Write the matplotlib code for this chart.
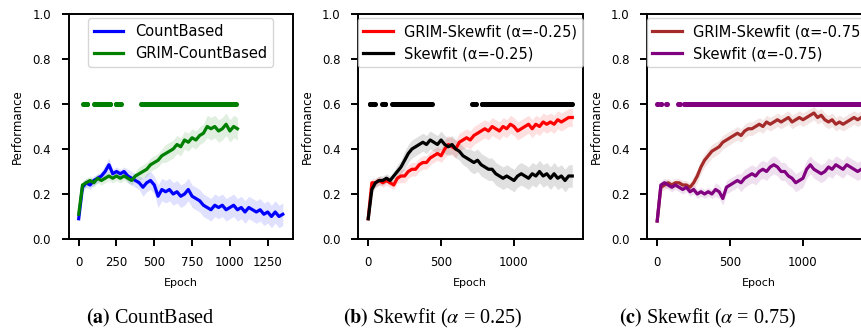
import matplotlib
matplotlib.use("Agg")
import matplotlib.pyplot as plt
import numpy as np

plt.rcParams['font.family'] = ['DejaVu Sans']
plt.rcParams['mathtext.fontset'] = 'stix'

# ---- panel (a) CountBased ----
count_epochs = list(range(0, 1351, 25))
count_mean = [0.09, 0.23, 0.25, 0.24, 0.26, 0.27, 0.28, 0.30, 0.33, 0.29,
              0.30, 0.29, 0.30, 0.28, 0.27, 0.26, 0.25, 0.23, 0.25, 0.26,
              0.24, 0.19, 0.22, 0.21, 0.22, 0.20, 0.21, 0.19, 0.20, 0.22,
              0.19, 0.18, 0.17, 0.15, 0.14, 0.13, 0.15, 0.14, 0.15, 0.13,
              0.14, 0.15, 0.13, 0.14, 0.12, 0.14, 0.13, 0.12, 0.13, 0.11,
              0.12, 0.10, 0.12, 0.10, 0.11]
count_std = [0.01, 0.02, 0.02, 0.02, 0.02, 0.02, 0.02, 0.03, 0.03, 0.02,
             0.02, 0.02, 0.02, 0.03, 0.03, 0.03, 0.03, 0.04, 0.04, 0.04,
             0.04, 0.05, 0.05, 0.05, 0.05, 0.05, 0.05, 0.05, 0.05, 0.05,
             0.05, 0.05, 0.05, 0.05, 0.05, 0.05, 0.05, 0.05, 0.05, 0.05,
             0.05, 0.05, 0.05, 0.05, 0.05, 0.05, 0.05, 0.05, 0.05, 0.05,
             0.05, 0.05, 0.05, 0.05, 0.05]
grim_count_epochs = list(range(0, 1051, 25))
grim_count_mean = [0.11, 0.24, 0.25, 0.26, 0.25, 0.27, 0.26, 0.27, 0.28, 0.27,
                   0.28, 0.27, 0.28, 0.27, 0.26, 0.28, 0.29, 0.30, 0.31, 0.33,
                   0.34, 0.35, 0.37, 0.38, 0.39, 0.40, 0.42, 0.41, 0.44, 0.43,
                   0.45, 0.44, 0.46, 0.47, 0.50, 0.49, 0.50, 0.48, 0.49, 0.51,
                   0.48, 0.50, 0.49]
grim_count_std = [0.01, 0.02, 0.02, 0.02, 0.02, 0.02, 0.02, 0.02, 0.02, 0.02,
                  0.02, 0.02, 0.02, 0.02, 0.02, 0.02, 0.03, 0.03, 0.03, 0.03,
                  0.03, 0.03, 0.03, 0.04, 0.04, 0.04, 0.04, 0.04, 0.04, 0.04,
                  0.04, 0.04, 0.04, 0.04, 0.05, 0.05, 0.05, 0.05, 0.05, 0.05,
                  0.05, 0.05, 0.05]
grim_count_marks = [(28, 60), (100, 210), (245, 282), (414, 1040)]

# ---- panel (b) Skewfit alpha=-0.25 ----
skew25_epochs = list(range(0, 1401, 25))
grim_skew25_mean = [0.09, 0.25, 0.25, 0.26, 0.25, 0.26, 0.25, 0.24, 0.27, 0.28,
                    0.28, 0.30, 0.31, 0.31, 0.33, 0.34, 0.34, 0.36, 0.37, 0.38,
                    0.37, 0.40, 0.42, 0.41, 0.40, 0.43, 0.44, 0.45, 0.44, 0.46,
                    0.47, 0.48, 0.49, 0.48, 0.50, 0.49, 0.48, 0.50, 0.49, 0.51,
                    0.50, 0.48, 0.49, 0.50, 0.51, 0.49, 0.51, 0.50, 0.52, 0.51,
                    0.52, 0.51, 0.53, 0.52, 0.53, 0.54, 0.54]
grim_skew25_std = [0.01, 0.02, 0.02, 0.02, 0.02, 0.02, 0.02, 0.02, 0.02, 0.03,
                   0.03, 0.03, 0.03, 0.03, 0.03, 0.03, 0.03, 0.03, 0.03, 0.03,
                   0.03, 0.04, 0.04, 0.04, 0.04, 0.04, 0.04, 0.04, 0.04, 0.04,
                   0.04, 0.04, 0.04, 0.04, 0.04, 0.04, 0.04, 0.04, 0.04, 0.04,
                   0.04, 0.04, 0.04, 0.04, 0.04, 0.04, 0.04, 0.04, 0.04, 0.04,
                   0.04, 0.04, 0.04, 0.04, 0.04, 0.04, 0.04]
skew25_mean = [0.09, 0.22, 0.25, 0.26, 0.26, 0.27, 0.26, 0.28, 0.30, 0.32,
               0.35, 0.38, 0.40, 0.41, 0.42, 0.43, 0.42, 0.44, 0.43, 0.42,
               0.44, 0.42, 0.41, 0.42, 0.40, 0.39, 0.37, 0.36, 0.35, 0.34,
               0.35, 0.33, 0.32, 0.31, 0.31, 0.29, 0.28, 0.27, 0.28, 0.27,
               0.26, 0.28, 0.29, 0.28, 0.27, 0.29, 0.28, 0.30, 0.28, 0.29,
               0.27, 0.29, 0.27, 0.28, 0.26, 0.28, 0.28]
skew25_std = [0.01, 0.02, 0.02, 0.02, 0.02, 0.02, 0.02, 0.02, 0.03, 0.03,
              0.04, 0.04, 0.04, 0.04, 0.04, 0.04, 0.04, 0.04, 0.04, 0.04,
              0.04, 0.04, 0.04, 0.04, 0.04, 0.04, 0.04, 0.04, 0.05, 0.05,
              0.05, 0.05, 0.05, 0.05, 0.05, 0.05, 0.05, 0.05, 0.05, 0.05,
              0.05, 0.05, 0.05, 0.05, 0.05, 0.05, 0.05, 0.05, 0.05, 0.05,
              0.05, 0.05, 0.05, 0.05, 0.05, 0.05, 0.05]
skew25_marks = [(10, 45), (98, 120), (165, 437), (715, 740), (778, 1400)]

# ---- panel (c) Skewfit alpha=-0.75 ----
skew75_epochs = list(range(0, 1401, 25))
grim_skew75_mean = [0.08, 0.23, 0.24, 0.25, 0.24, 0.25, 0.25, 0.24, 0.24, 0.23,
                    0.25, 0.28, 0.32, 0.35, 0.37, 0.39, 0.40, 0.41, 0.43, 0.44,
                    0.45, 0.46, 0.47, 0.46, 0.48, 0.49, 0.49, 0.50, 0.51, 0.50,
                    0.52, 0.51, 0.52, 0.53, 0.52, 0.53, 0.54, 0.52, 0.53, 0.54,
                    0.53, 0.54, 0.55, 0.56, 0.54, 0.55, 0.53, 0.52, 0.53, 0.51,
                    0.52, 0.51, 0.52, 0.53, 0.54, 0.53, 0.54]
grim_skew75_std = [0.01, 0.02, 0.02, 0.02, 0.02, 0.02, 0.02, 0.02, 0.02, 0.02,
                   0.03, 0.03, 0.03, 0.03, 0.03, 0.03, 0.03, 0.03, 0.03, 0.03,
                   0.03, 0.03, 0.03, 0.03, 0.03, 0.03, 0.03, 0.03, 0.03, 0.03,
                   0.03, 0.03, 0.03, 0.03, 0.03, 0.03, 0.03, 0.03, 0.03, 0.03,
                   0.03, 0.03, 0.03, 0.03, 0.03, 0.03, 0.03, 0.03, 0.03, 0.03,
                   0.03, 0.03, 0.03, 0.03, 0.03, 0.03, 0.03]
skew75_mean = [0.08, 0.24, 0.25, 0.24, 0.23, 0.24, 0.23, 0.22, 0.23, 0.21,
               0.22, 0.20, 0.21, 0.20, 0.21, 0.20, 0.22, 0.21, 0.18, 0.23,
               0.24, 0.25, 0.26, 0.25, 0.27, 0.28, 0.29, 0.28, 0.30, 0.31,
               0.30, 0.32, 0.33, 0.32, 0.30, 0.30, 0.28, 0.27, 0.25, 0.26,
               0.27, 0.31, 0.33, 0.31, 0.30, 0.29, 0.30, 0.32, 0.31, 0.33,
               0.32, 0.31, 0.33, 0.32, 0.31, 0.30, 0.31]
skew75_std = [0.01, 0.02, 0.02, 0.02, 0.02, 0.02, 0.02, 0.02, 0.02, 0.02,
              0.02, 0.02, 0.02, 0.02, 0.02, 0.02, 0.03, 0.03, 0.03, 0.03,
              0.03, 0.03, 0.03, 0.04, 0.04, 0.04, 0.04, 0.04, 0.04, 0.04,
              0.04, 0.04, 0.04, 0.04, 0.04, 0.04, 0.04, 0.04, 0.04, 0.04,
              0.04, 0.04, 0.04, 0.04, 0.04, 0.04, 0.04, 0.04, 0.04, 0.04,
              0.04, 0.04, 0.04, 0.04, 0.04, 0.04, 0.04]
skew75_marks = [(0, 5), (24, 30), (62, 68), (145, 158), (185, 1400)]

panels = [
    dict(series=[(count_epochs, count_mean, count_std, 'blue', 'CountBased'),
                 (grim_count_epochs, grim_count_mean, grim_count_std, 'green', 'GRIM-CountBased')],
         marks=grim_count_marks, mark_color='green',
         xticks=[0, 250, 500, 750, 1000, 1250],
         caption=r'$\mathbf{(a)}$ CountBased', cap_x=150),
    dict(series=[(skew25_epochs, grim_skew25_mean, grim_skew25_std, 'red', 'GRIM-Skewfit (α=-0.25)'),
                 (skew25_epochs, skew25_mean, skew25_std, 'black', 'Skewfit (α=-0.25)')],
         marks=skew25_marks, mark_color='black',
         xticks=[0, 500, 1000],
         caption=r'$\mathbf{(b)}$ Skewfit ($\alpha$ = 0.25)', cap_x=433),
    dict(series=[(skew75_epochs, grim_skew75_mean, grim_skew75_std, 'brown', 'GRIM-Skewfit (α=-0.75)'),
                 (skew75_epochs, skew75_mean, skew75_std, 'purple', 'Skewfit (α=-0.75)')],
         marks=skew75_marks, mark_color='purple',
         xticks=[0, 500, 1000],
         caption=r'$\mathbf{(c)}$ Skewfit ($\alpha$ = 0.75)', cap_x=708),
]

W, H = 861, 329
fig = plt.figure(figsize=(W / 100, H / 100), dpi=100)
lefts = [68.5, 358, 647]
for p, left in zip(panels, lefts):
    ax = fig.add_axes([left / W, (H - 239) / H, 224.5 / W, 225 / H])
    for x, m, s, c, lab in p['series']:
        m = np.array(m)
        s = np.array(s)
        ax.fill_between(x, m - s, m + s, color=c, alpha=0.12, lw=0)
        ax.plot(x, m, color=c, lw=2.3, label=lab)
    for a, b in p['marks']:
        xs = np.arange(a, b + 1, 5)
        ax.plot(xs, np.full(len(xs), 0.6), 'o', color=p['mark_color'], ms=3.6, mew=0)
    ax.set_ylim(0, 1)
    ax.set_xticks(p['xticks'])
    ax.set_yticks([0, 0.2, 0.4, 0.6, 0.8, 1.0])
    ax.tick_params(labelsize=8.5, width=1.4, length=5, pad=7.5)
    for sp in ax.spines.values():
        sp.set_linewidth(1.4)
    ax.set_xlabel('Epoch', fontsize=8, labelpad=6.5)
    ax.set_ylabel('Performance', fontsize=8.5, labelpad=6)
    ax.legend(loc='upper center', fontsize=10.5, borderaxespad=0.3)
    fig.text(p['cap_x'] / W, 0.033, p['caption'], ha='center', va='center',
             fontsize=14.5, family='Liberation Serif')

fig.savefig('out.png', dpi=100)
